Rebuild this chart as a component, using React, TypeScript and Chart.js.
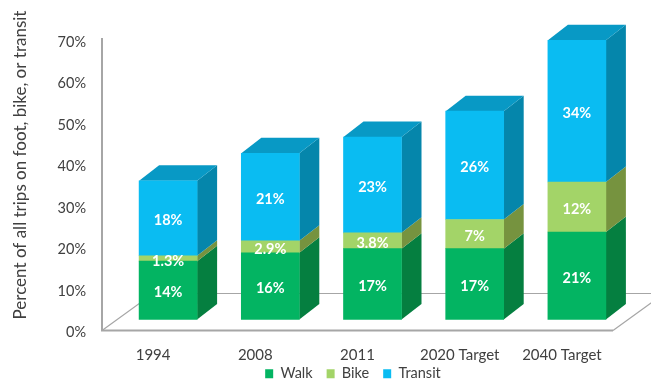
import React, { useEffect, useRef } from "react";
import { Chart, registerables } from "chart.js";

Chart.register(...registerables);

const categories = ["1994", "2008", "2011", "2020 Target", "2040 Target"];
const walk = [14, 16, 17, 17, 21];
const bike = [1.3, 2.9, 3.8, 7, 12];
const transit = [18, 21, 23, 26, 34];
const yTicks = [0, 10, 20, 30, 40, 50, 60, 70];

const FONT = "Lato, Carlito, sans-serif";
const TEXT = "#404040";
const AXIS = "#a6a6a6";
const FACE = ["#03b462", "#a3d468", "#0abcf2"];
const SIDE = ["#057f40", "#76933f", "#0586ab"];
const ROOF = "#0899c5";

// Receding depth of a bar and of the floor, in pixels.
const BAR_DEPTH = { x: 20, y: 15.5 };
const FLOOR_DEPTH = { x: 51, y: 37 };
// The floor starts left of the plot area so the bars stand inside it.
const FLOOR_INSET = 15;

const extrusion = {
  id: "extrusion",
  afterLayout(chart: any) {
    // Centre the legend under the plot rather than under the canvas.
    const legend = chart.legend;
    legend.left += 39;
    legend.right += 39;
    legend.top -= 14;
    legend.bottom -= 14;
  },
  beforeDatasetsDraw(chart: any) {
    const { ctx, scales } = chart;
    const y0 = scales.y.getPixelForValue(0);
    const yTop = scales.y.getPixelForValue(70);
    const left = scales.x.left - FLOOR_INSET;
    const right = scales.x.right - FLOOR_INSET;

    ctx.save();
    ctx.strokeStyle = AXIS;
    ctx.lineWidth = 1.2;
    ctx.beginPath();
    ctx.moveTo(left, y0);
    ctx.lineTo(left + FLOOR_DEPTH.x, y0 - FLOOR_DEPTH.y);
    ctx.lineTo(right + FLOOR_DEPTH.x, y0 - FLOOR_DEPTH.y);
    ctx.moveTo(right, y0);
    ctx.lineTo(right + FLOOR_DEPTH.x, y0 - FLOOR_DEPTH.y);
    ctx.stroke();

    ctx.lineWidth = 2;
    ctx.beginPath();
    ctx.moveTo(left, yTop - 2);
    ctx.lineTo(left, y0);
    ctx.lineTo(right, y0);
    ctx.stroke();

    chart.data.datasets.forEach((_: any, d: number) => {
      chart.getDatasetMeta(d).data.forEach((bar: any) => {
        const { x, y, base, width } = bar.getProps(["x", "y", "base", "width"], true);
        const r = x + width / 2;
        ctx.fillStyle = SIDE[d];
        ctx.beginPath();
        ctx.moveTo(r, y);
        ctx.lineTo(r + BAR_DEPTH.x, y - BAR_DEPTH.y);
        ctx.lineTo(r + BAR_DEPTH.x, base - BAR_DEPTH.y);
        ctx.lineTo(r, base);
        ctx.closePath();
        ctx.fill();
        if (d === chart.data.datasets.length - 1) {
          const l = x - width / 2;
          ctx.fillStyle = ROOF;
          ctx.beginPath();
          ctx.moveTo(l, y);
          ctx.lineTo(l + BAR_DEPTH.x, y - BAR_DEPTH.y);
          ctx.lineTo(r + BAR_DEPTH.x, y - BAR_DEPTH.y);
          ctx.lineTo(r, y);
          ctx.closePath();
          ctx.fill();
        }
      });
    });
    ctx.restore();
  },
  afterDatasetsDraw(chart: any) {
    const { ctx } = chart;
    ctx.save();
    ctx.fillStyle = "#ffffff";
    ctx.font = `bold 14.5px ${FONT}`;
    ctx.textAlign = "center";
    ctx.textBaseline = "middle";
    chart.data.datasets.forEach((ds: any, d: number) => {
      chart.getDatasetMeta(d).data.forEach((bar: any, i: number) => {
        const c = bar.getCenterPoint();
        ctx.fillText(`${ds.data[i]}%`, c.x, c.y + 2.5);
      });
    });

    // Axis title, centred on the full height of the back wall and bar tops.
    ctx.fillStyle = TEXT;
    ctx.font = `17px ${FONT}`;
    ctx.translate(21, 165);
    ctx.rotate(-Math.PI / 2);
    ctx.fillText("Percent of all trips on foot, bike, or transit", 0, 0);
    ctx.restore();
  },
};

export default function App() {
  const ref = useRef<HTMLCanvasElement>(null);

  useEffect(() => {
    document.body.style.margin = "0";
    const chart = new Chart(ref.current!, {
      type: "bar",
      data: {
        labels: categories,
        datasets: [
          { label: "Walk", data: walk, backgroundColor: FACE[0], yAxisID: "bars" },
          { label: "Bike", data: bike, backgroundColor: FACE[1], yAxisID: "bars" },
          { label: "Transit", data: transit, backgroundColor: FACE[2], yAxisID: "bars" },
        ],
      },
      options: {
        responsive: false,
        animation: false,
        layout: { padding: { top: 40, right: 23, bottom: -23, left: 0 } },
        datasets: { bar: { barThickness: 58 } },
        plugins: {
          tooltip: { enabled: false },
          legend: {
            position: "bottom",
            labels: {
              boxWidth: 8,
              boxHeight: 9,
              padding: 14,
              color: TEXT,
              font: { family: FONT, size: 14.5 },
            },
          },
        },
        scales: {
          x: {
            stacked: true,
            grid: { display: false },
            border: { display: false },
            afterFit(scale: any) {
              scale.height = 36;
            },
            ticks: {
              color: TEXT,
              padding: 8,
              labelOffset: -15,
              maxRotation: 0,
              autoSkip: false,
              font: { family: FONT, size: 15 },
            },
          },
          // Bars sit on their own hidden axis, raised a little off the floor's front edge.
          bars: { display: false, stacked: true, min: -2.64, max: 67.07 },
          y: {
            position: "left",
            min: 0,
            max: 70,
            grid: { display: false },
            border: { display: false },
            afterFit(scale: any) {
              scale.width = 117;
            },
            afterBuildTicks(scale: any) {
              scale.ticks = yTicks.map((value) => ({ value }));
            },
            ticks: {
              color: TEXT,
              padding: 23,
              labelOffset: 2,
              font: { family: FONT, size: 14.5 },
              callback: (v: any) => `${v}%`,
            },
          },
        },
      } as any,
      plugins: [extrusion],
    });
    return () => chart.destroy();
  }, []);

  return <canvas ref={ref} width={651} height={382} style={{ display: "block" }} />;
}
